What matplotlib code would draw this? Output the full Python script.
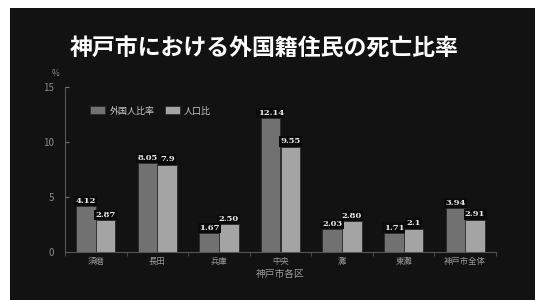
import numpy as np
import matplotlib
matplotlib.use("Agg")
import matplotlib.pyplot as plt
from matplotlib.patches import Rectangle

plt.rcParams['font.family'] = ['Noto Sans CJK JP', 'DejaVu Sans']

districts = ['須磨', '長田', '兵庫', '中央', '灘', '東灘', '神戸市全体']
foreign = [4.12, 8.05, 1.67, 12.14, 2.03, 1.71, 3.94]
population = [2.87, 7.9, 2.50, 9.55, 2.80, 2.1, 2.91]
foreign_txt = ['4.12', '8.05', '1.67', '12.14', '2.03', '1.71', '3.94']
population_txt = ['2.87', '7.9', '2.50', '9.55', '2.80', '2.1', '2.91']

fig = plt.figure(figsize=(5.35, 3.0), dpi=100, facecolor='white')
# dark panel behind everything (white margin top/left as in the source)
fig.patches.append(Rectangle((10 / 535, 0), 1, 1 - 8 / 300, transform=fig.transFigure,
                             facecolor='#121212', edgecolor='none', zorder=-10))

ax = fig.add_axes([65 / 535, 1 - 251.7 / 300, (496 - 65) / 535, (251.7 - 86.7) / 300])
ax.set_facecolor('none')

x = np.arange(len(districts))
w = 0.32
b1 = ax.bar(x - w / 2, foreign, w, color='#717171', edgecolor='#2a2a2a', linewidth=0.6,
            label='外国人比率')
b2 = ax.bar(x + w / 2, population, w, color='#a4a4a4', edgecolor='#2a2a2a', linewidth=0.6,
            label='人口比')

box = dict(boxstyle='square,pad=0.15', facecolor='#0a0a0a', edgecolor='none')
for r, t in zip(b1, foreign_txt):
    ax.text(r.get_x() + r.get_width() / 2, r.get_height() + 0.12, t, ha='center', va='bottom',
            fontsize=6, color='#e8e8e8', fontweight='bold', family='DejaVu Serif', bbox=box)
for r, t in zip(b2, population_txt):
    ax.text(r.get_x() + r.get_width() / 2, r.get_height() + 0.12, t, ha='center', va='bottom',
            fontsize=6, color='#e8e8e8', fontweight='bold', family='DejaVu Serif', bbox=box)

ax.set_xlim(-0.5, len(districts) - 0.5)
ax.set_ylim(0, 15)
ax.set_yticks([0, 5, 10, 15])
ax.set_xticks(x)
ax.set_xticklabels(districts)
ax.set_xticks(np.arange(len(districts) + 1) - 0.5, minor=True)
ax.tick_params(axis='x', which='major', length=0, colors='#9a9a9a', labelsize=6, pad=4)
ax.tick_params(axis='x', which='minor', length=3, color='#555555', direction='out')
ax.tick_params(axis='y', length=3, direction='in', color='#777777', labelcolor='#8a8a8a',
               labelsize=7, pad=8)

for s in ['top', 'right']:
    ax.spines[s].set_visible(False)
ax.spines['left'].set_color('#555555')
ax.spines['bottom'].set_color('#555555')
ax.spines['left'].set_linewidth(0.8)
ax.spines['bottom'].set_linewidth(0.8)

ax.set_xlabel('神戸市各区', color='#9a9a9a', fontsize=7, labelpad=2)
fig.text(56 / 535, 1 - 73 / 300, '%', color='#8a8a8a', fontsize=6, ha='center', va='center')

leg = ax.legend(loc='upper left', bbox_to_anchor=(0.04, 0.93), ncol=2, frameon=False,
                fontsize=6.5, handlelength=1.6, handleheight=1.0, columnspacing=1.2,
                handletextpad=0.5)
for t in leg.get_texts():
    t.set_color('#c8c8c8')

fig.text(264 / 535, 1 - 48 / 300, '神戸市における外国籍住民の死亡比率', color='white',
         fontsize=16.5, fontweight='bold', ha='center', va='center')

fig.savefig('out.png', dpi=100, facecolor=fig.get_facecolor())
